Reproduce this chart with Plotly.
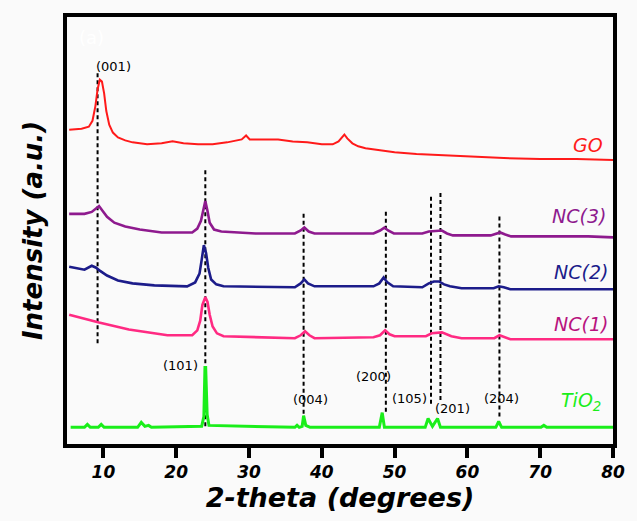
import plotly.graph_objects as go

# ---- data (intensity in arbitrary units, offset-stacked as in the figure) ----
go_x = [5.3, 7.0, 8.0, 8.5, 8.9, 9.2, 9.5, 9.8, 10.1, 10.4, 10.8, 11.3, 12.0, 13.0, 14, 16, 18, 19.5, 21, 23, 25, 27, 29,
        29.6, 30.1, 32, 34, 36, 38, 40, 41.5, 42.3, 42.8, 43.1, 43.5, 44.2, 45, 46, 48, 50, 53, 56, 60, 65, 70, 75, 80]
go_y = [321, 322, 324, 330, 345, 362, 372, 370, 358, 340, 326, 318, 313, 310, 308, 306, 307, 309, 307, 306, 306, 308, 311,
        315, 311, 311, 311, 309, 308, 306, 306, 309, 314, 316, 312, 307, 304, 302, 300, 298, 296, 295, 293, 292, 291, 291, 290]

nc3_x = [5.3, 7.4, 8.4, 8.9, 9.4, 9.9, 10.5, 11.5, 13, 15, 18, 22.2, 22.9, 23.4, 23.7, 24.0, 24.3, 24.6, 25.2, 26.2,
         30.9, 36.3, 37.1, 37.6, 38.2, 39.0, 47.1, 48.0, 48.6, 49.1, 49.9, 53.8, 54.7, 55.8, 56.5, 57.2, 58.0,
         63.2, 64.1, 64.5, 65.2, 66.0, 76.6, 80]
nc3_y = [235, 235, 237, 240, 243, 238, 232, 226, 222, 219, 216, 216, 220, 228, 238, 248, 238, 226, 219, 217,
         215, 215, 218, 221, 217, 215, 215, 218, 221, 218, 215, 215, 217, 218, 218, 215, 213,
         213, 215, 216, 214, 212, 212, 211]

nc2_x = [5.3, 7.4, 8.4, 9.0, 9.5, 10.5, 12, 14, 17, 21.5, 22.6, 23.2, 23.5, 23.8, 24.1, 24.4, 24.8, 25.5, 26.5,
         36.3, 37.1, 37.6, 38.1, 39.0, 47.1, 47.9, 48.5, 49.0, 49.8, 53.8, 54.7, 55.4, 56.1, 56.8, 57.6, 59.2,
         63.6, 64.3, 65.0, 65.9, 80]
nc2_y = [181, 178, 182, 180, 177, 172, 167, 164, 162, 161, 165, 174, 188, 203, 195, 180, 168, 163, 161,
         160, 164, 168, 164, 161, 161, 164, 170, 165, 161, 160, 164, 166, 166, 163, 161, 159,
         159, 161, 160, 158, 158]

nc1_x = [5.3, 9.4, 13.5, 18.8, 22.2, 22.9, 23.3, 23.6, 24.0, 24.3, 24.6, 25.0, 25.6, 26.5, 36.3, 37.1, 37.7, 38.3, 39.0,
         47.1, 48.0, 48.7, 49.3, 50.0, 54.3, 55.1, 56.5, 57.2, 57.8, 59.2, 63.7, 64.4, 65.1, 65.9, 80]
nc1_y = [132, 124, 117, 111, 111, 116, 126, 142, 150, 145, 132, 120, 113, 110, 108, 111, 115, 111, 108,
         109, 111, 116, 112, 110, 110, 113, 114, 112, 110, 108, 108, 111, 109, 107, 107]

tio2_x = [5.5, 7.4, 7.8, 8.2, 9.3, 9.7, 10.1, 14.7, 15.2, 15.7, 16.2, 16.6, 23.5, 23.8, 23.95, 24.05, 24.25, 24.5,
          36.3, 36.6, 36.9, 37.3, 37.5, 37.8, 38.1, 38.4, 47.9, 48.3, 48.6, 54.2, 54.6, 55.2, 55.9, 56.3,
          63.9, 64.3, 64.7, 70.1, 70.5, 70.9, 80]
tio2_y = [17, 17, 20, 17, 17, 20, 17, 17, 22, 18, 19, 17, 18, 28, 78, 78, 30, 19,
          17, 19, 17, 18, 29, 19, 18, 17, 17, 32, 17, 17, 26, 18, 26, 17,
          17, 23, 17, 17, 19, 17, 17]

# reference dashed lines: x, top, bottom
dash_x = [9.2, 24.0, 37.5, 48.8, 55.0, 56.3, 64.4]
dash_top = [381, 280, 235, 238, 255, 258, 235]
dash_bot = [103, 18, 31, 33, 41, 45, 28]

# hkl labels
hkl_text = ["(001)", "(101)", "(004)", "(200)", "(105)", "(201)", "(204)"]
hkl_x = [11.45, 20.6, 38.5, 47.1, 52.0, 58.0, 64.7]
hkl_y = [385, 80, 45, 69, 46, 36, 46]

# series names
names = ["GO", "NC(3)", "NC(2)", "NC(1)", "TiO<sub>2</sub>"]
name_x = [76.5, 75.3, 75.6, 75.6, 75.6]
name_y = [305, 233, 176, 123, 43]

line_colors = ["#ff1a1a", "#8e1a8e", "#1c1c8a", "#ff2a82", "#1aee1a"]
label_colors = ["#ff1a1a", "#8e1a8e", "#1c1c8a", "#b8137e", "#1aee1a"]
widths = [2, 2.6, 2.6, 2.6, 3]

FONT = "DejaVu Sans"

fig = go.Figure()

for xv, t, b in zip(dash_x, dash_top, dash_bot):
    fig.add_trace(go.Scatter(x=[xv, xv], y=[b, t], mode="lines",
                             line=dict(color="black", width=2, dash="4px,3px"),
                             hoverinfo="skip", showlegend=False))

series = [(go_x, go_y), (nc3_x, nc3_y), (nc2_x, nc2_y), (nc1_x, nc1_y), (tio2_x, tio2_y)]
for (xs, ys), c, w, n in zip(series, line_colors, widths, names):
    fig.add_trace(go.Scatter(x=xs, y=ys, mode="lines", line=dict(color=c, width=w),
                             name=n, showlegend=False))

for t, xv, yv in zip(hkl_text, hkl_x, hkl_y):
    fig.add_annotation(x=xv, y=yv, text=t, showarrow=False,
                       font=dict(family=FONT, size=13, color="black"))

for t, xv, yv, c in zip(names, name_x, name_y, label_colors):
    fig.add_annotation(x=xv, y=yv, text=t, showarrow=False,
                       font=dict(family=FONT, size=19, color=c, style="italic"))

fig.add_annotation(x=8.4, y=415, text="(a)", showarrow=False,
                   font=dict(family=FONT, size=18, color="#ffffff"))

fig.update_layout(
    width=637, height=521,
    margin=dict(l=67, r=12, t=17, b=68),
    paper_bgcolor="#fafafa", plot_bgcolor="#fafafa",
    xaxis=dict(range=[5, 80], tickvals=[10, 20, 30, 40, 50, 60, 70, 80],
               ticks="outside", ticklen=10, tickwidth=4, tickcolor="black",
               showline=True, linewidth=4, linecolor="black", mirror=True,
               showgrid=False, zeroline=False,
               tickfont=dict(family=FONT, size=17, color="black", style="italic", weight="bold"),
               title=dict(text="2-theta (degrees)", standoff=8,
                          font=dict(family=FONT, size=27, color="black", style="italic", weight="bold"))),
    yaxis=dict(range=[0, 436], showticklabels=False, ticks="",
               showline=True, linewidth=4, linecolor="black", mirror=True,
               showgrid=False, zeroline=False,
               title=dict(text="Intensity (a.u.)", standoff=14,
                          font=dict(family=FONT, size=26, color="black", style="italic", weight="bold"))),
)

fig.write_html("out.html")
